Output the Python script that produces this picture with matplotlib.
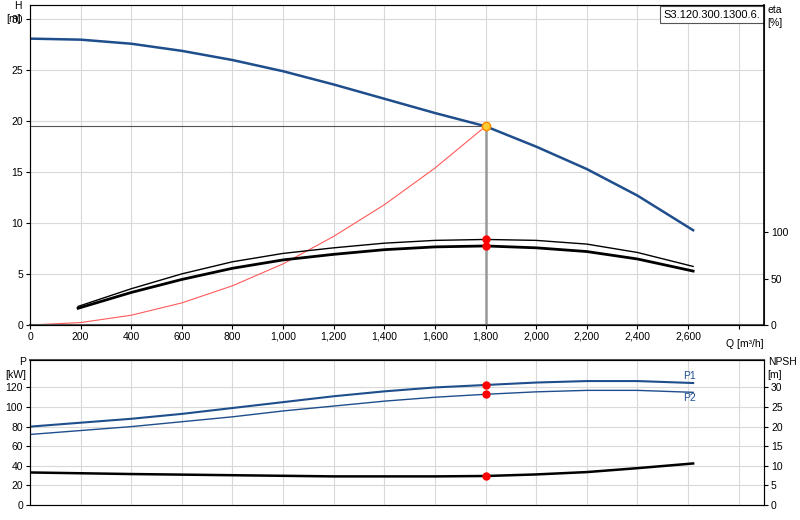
import matplotlib
matplotlib.use("Agg")
import matplotlib.pyplot as plt

plt.rcParams['font.family'] = ['Liberation Sans', 'DejaVu Sans']
plt.rcParams['font.size'] = 7.5

q_h = [0, 200, 400, 600, 800, 1000, 1200, 1400, 1600, 1800, 2000, 2200, 2400, 2620]
h = [28.1, 28.0, 27.6, 26.9, 26.0, 24.9, 23.6, 22.2, 20.8, 19.5, 17.5, 15.3, 12.7, 9.3]
q_eta = [190, 400, 600, 800, 1000, 1200, 1400, 1600, 1800, 2000, 2200, 2400, 2620]
eta1 = [20, 39, 55, 68, 77, 83, 88, 91, 92, 91, 87, 78, 63]
eta2 = [18, 35, 49, 61, 70, 76, 81, 84, 85, 83, 79, 71, 58]
q_sys = [0, 200, 400, 600, 800, 1000, 1200, 1400, 1600, 1800]
h_sys = [0, 0.24, 0.96, 2.17, 3.85, 6.0, 8.7, 11.8, 15.4, 19.5]
q_p = [0, 200, 400, 600, 800, 1000, 1200, 1400, 1600, 1800, 2000, 2200, 2400, 2620]
p1 = [80, 84, 88, 93, 99, 105, 111, 116, 120, 122.5, 125, 126.5, 126.5, 124.5]
p2 = [72, 76, 80, 85, 90, 96, 101, 106, 110, 113, 115.5, 117, 117, 115]
q_npsh = [0, 400, 800, 1200, 1600, 1800, 2000, 2200, 2400, 2620]
npsh = [8.3, 7.9, 7.6, 7.3, 7.3, 7.4, 7.8, 8.4, 9.4, 10.6]
q_op = 1800
h_op = 19.5
eta1_op, eta2_op = 92, 85
p1_op, p2_op, npsh_op = 122.5, 113, 7.4
xticks = list(range(0, 2601, 200))

blue = '#1f4e8c'
grid = '#d9d9d9'
spine = '#555555'
eta_scale = 10.96

fig = plt.figure(figsize=(8, 5.2), dpi=100)
ax = fig.add_axes([30/800, 1-325/520, 734/800, 320/520])
ax.set_xlim(0, 2900)
ax.set_ylim(0, 31.4)
ax.set_xticks(list(range(0, 2801, 200)))
ax.set_xticklabels([f"{v:,}" for v in xticks] + [''])
ax.set_yticks(range(0, 31, 5))
ax.grid(True, color=grid, lw=0.8)
ax.set_axisbelow(True)
ax.plot(q_h, h, color=blue, lw=1.8)
ax.plot(q_sys, h_sys, color='#ff5a5a', lw=0.8)
ax.plot(q_eta, [e/eta_scale for e in eta1], color='black', lw=1.0)
ax.plot(q_eta, [e/eta_scale for e in eta2], color='black', lw=2.0)
ax.plot([0, q_op], [h_op, h_op], color='#555555', lw=0.8)
ax.plot([q_op, q_op], [0, h_op], color='#999999', lw=1.8)
ax.plot([q_op, q_op], [eta1_op/eta_scale, eta2_op/eta_scale], 'o', color='red', ms=5)
ax.plot(q_op, h_op, 'o', color='#ffcc33', mec='#ff8800', ms=6)
for s in ax.spines.values():
    s.set_color(spine)
ax.spines['bottom'].set_linewidth(1.5)
ax.tick_params(length=3, pad=2)
ax.text(-0.012, 1.012, 'H\n[m]', transform=ax.transAxes, ha='right', va='top', linespacing=1.3)
ax.text(1.0, -0.045, 'Q [m³/h]', transform=ax.transAxes, ha='right', va='top')
ax.text(0.995, 0.985, 'S3.120.300.1300.6.', transform=ax.transAxes, ha='right', va='top',
        fontsize=8, bbox=dict(boxstyle='square,pad=0.3', fc='white', ec='#555555', lw=0.8))
ax2 = ax.twinx()
ax2.set_ylim(0, 31.4*eta_scale)
ax2.set_yticks([0, 50, 100])
ax2.tick_params(length=3, pad=2)
ax2.spines['right'].set_color('black')
ax2.spines['right'].set_linewidth(1.2)
ax2.text(1.005, 1.0, 'eta\n[%]', transform=ax2.transAxes, ha='left', va='top', linespacing=1.4)

bx = fig.add_axes([30/800, 1-505/520, 734/800, 145/520])
bx.set_xlim(0, 2900)
bx.set_ylim(0, 148)
bx.set_xticks(list(range(0, 2801, 200)))
bx.set_xticklabels([])
bx.tick_params(axis='x', length=0)
bx.set_yticks(range(0, 121, 20))
bx.grid(True, color=grid, lw=0.8)
bx.set_axisbelow(True)
bx.plot(q_p, p1, color=blue, lw=1.5)
bx.plot(q_p, p2, color=blue, lw=1.0)
bx.plot(q_npsh, [n*4 for n in npsh], color='black', lw=1.8)
bx.plot([q_op]*3, [p1_op, p2_op, npsh_op*4], 'o', color='red', ms=5)
bx.text(2580, p1[-1]+4, 'P1', color=blue, fontsize=7.5)
bx.text(2580, p2[-1]-9, 'P2', color=blue, fontsize=7.5)
for s in bx.spines.values():
    s.set_color(spine)
bx.spines['top'].set_linewidth(1.5)
bx.tick_params(axis='y', length=3, pad=2)
bx.text(-0.005, 1.02, 'P\n[kW]', transform=bx.transAxes, ha='right', va='top', linespacing=1.4)
bx2 = bx.twinx()
bx2.set_ylim(0, 37)
bx2.set_yticks(range(0, 31, 5))
bx2.tick_params(length=3, pad=2)
bx2.text(1.005, 1.02, 'NPSH\n[m]', transform=bx2.transAxes, ha='left', va='top', linespacing=1.4)

fig.savefig('out.png', dpi=100)
